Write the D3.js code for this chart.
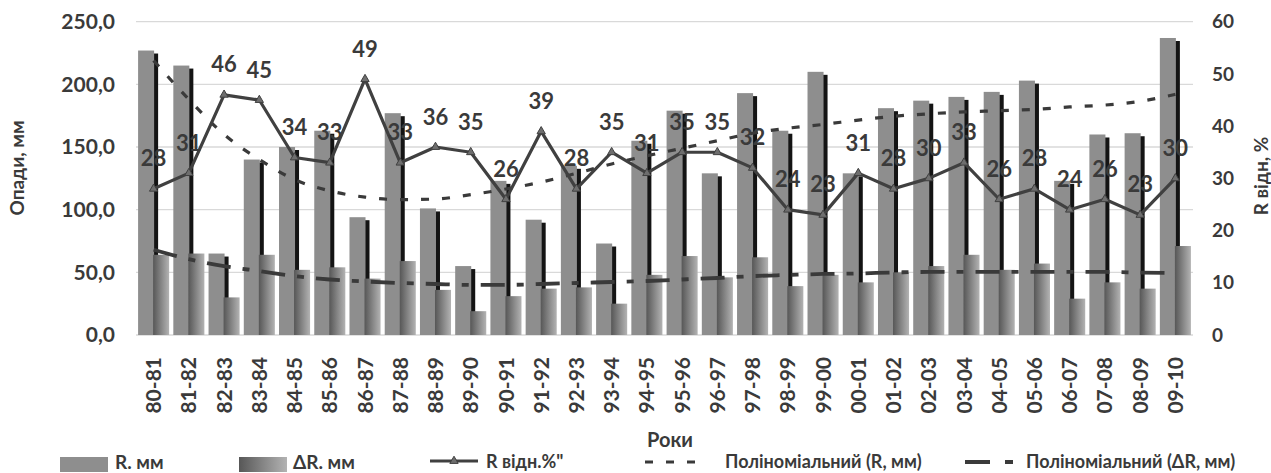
<!DOCTYPE html>
<html>
<head>
<meta charset="utf-8">
<script src="https://cdn.jsdelivr.net/npm/d3@7/dist/d3.min.js"></script>
<style>
  html, body { margin: 0; padding: 0; background: #fff; }
  svg { display: block; font-family: Lato, "Open Sans", sans-serif; font-weight: bold; }
</style>
</head>
<body>
<svg id="chart" width="1271" height="473"></svg>
<script>
// ---------- data ----------
const categories = ["80-81","81-82","82-83","83-84","84-85","85-86","86-87","87-88","88-89","89-90",
  "90-91","91-92","92-93","93-94","94-95","95-96","96-97","97-98","98-99","99-00",
  "00-01","01-02","02-03","03-04","04-05","05-06","06-07","07-08","08-09","09-10"];
const rValues = [227,215,65,140,150,163,94,177,101,55,123,92,135,73,155,179,129,193,163,210,
  129,181,187,190,194,203,123,160,161,237];
const dRValues = [64,65,30,64,52,54,45,59,36,19,31,37,38,25,48,63,46,62,39,48,
  42,50,55,64,52,57,29,42,37,71];
const rPctValues = [28,31,46,45,34,33,49,33,36,35,26,39,28,35,31,35,35,32,24,23,
  31,28,30,33,26,28,24,26,23,30];
// polynomial trend lines
const trendR = [219,188,160,140,124,115,110,108,108.5,112,116.5,122,129,136.5,143,149,155,161,165,168,
  171.5,174.5,176.5,178,179,180,182,183.5,186.5,192];
const trendDR = [68,60.5,55,51,47,44.3,42.7,41.5,40.7,40,40,40.7,41.5,42.3,43.1,44.3,45.5,47,47.9,48.7,
  49.1,49.9,50.3,50.3,50.3,50.3,50.3,50.3,49.8,49.5];
const leftTicks = [0,50,100,150,200,250];
const rightTicks = [0,10,20,30,40,50,60];

// ---------- layout ----------
const svg = d3.select("#chart");
const plot = {left: 136, right: 1193, top: 21.7, bottom: 335};
const textCol = "#3a3a3a";

const x = d3.scaleBand().domain(categories).range([plot.left, plot.right]).paddingInner(0).paddingOuter(0);
const yL = d3.scaleLinear().domain([0, 250]).range([plot.bottom, plot.top]);
const yR = d3.scaleLinear().domain([0, 60]).range([plot.bottom, plot.top]);
const bw = x.bandwidth();
const barW = bw * 0.455;
const cx = c => x(c) + bw / 2;

// gradient
const defs = svg.append("defs");
const grad = defs.append("linearGradient").attr("id", "gradDR").attr("x1", "0").attr("x2", "1").attr("y1", "0").attr("y2", "0");
grad.append("stop").attr("offset", "0%").attr("stop-color", "#575757");
grad.append("stop").attr("offset", "100%").attr("stop-color", "#b3b3b3");

// gridlines
svg.append("g").selectAll("line").data(leftTicks).join("line")
  .attr("x1", plot.left).attr("x2", plot.right)
  .attr("y1", d => yL(d)).attr("y2", d => yL(d))
  .attr("stroke", "#d9d9d9").attr("stroke-width", 1.3);

// axes
const fmt = d => d3.format(".1f")(d).replace(".", ",");
const gL = svg.append("g").attr("transform", `translate(${plot.left},0)`)
  .call(d3.axisLeft(yL).tickValues(leftTicks).tickFormat(fmt).tickSize(0).tickPadding(21));
gL.select(".domain").remove();
gL.selectAll("text").attr("fill", textCol).style("font-size", "21px").style("font-family", "Lato").style("font-weight", "bold");

const gR = svg.append("g").attr("transform", `translate(${plot.right},0)`)
  .call(d3.axisRight(yR).tickValues(rightTicks).tickFormat(d3.format("d")).tickSize(0).tickPadding(19));
gR.select(".domain").remove();
gR.selectAll("text").attr("fill", textCol).style("font-size", "19px").style("font-family", "Lato").style("font-weight", "bold");

const gX = svg.append("g").attr("transform", `translate(0,${plot.bottom})`)
  .call(d3.axisBottom(x).tickSize(0));
gX.select(".domain").remove();
gX.selectAll("text")
  .attr("x", -22).attr("y", 0).attr("dy", "0.36em")
  .attr("transform", "rotate(-90)")
  .style("text-anchor", "end")
  .attr("fill", textCol).style("font-size", "21px").style("font-family", "Lato").style("font-weight", "bold");

// R shadow
svg.append("g").selectAll("rect").data(categories).join("rect")
  .attr("x", (c) => cx(c) - barW + 0.5 + 4)
  .attr("y", (c, i) => yL(rValues[i]) + 3)
  .attr("width", barW)
  .attr("height", (c, i) => Math.max(0, plot.bottom - yL(rValues[i]) - 3))
  .attr("fill", "#141414");
// R bars
svg.append("g").selectAll("rect").data(categories).join("rect")
  .attr("x", (c) => cx(c) - barW + 0.5)
  .attr("y", (c, i) => yL(rValues[i]))
  .attr("width", barW)
  .attr("height", (c, i) => plot.bottom - yL(rValues[i]))
  .attr("fill", "#8e8e8e");
// dR bars
svg.append("g").selectAll("rect").data(categories).join("rect")
  .attr("x", (c) => cx(c) - 0.5)
  .attr("y", (c, i) => yL(dRValues[i]))
  .attr("width", barW)
  .attr("height", (c, i) => plot.bottom - yL(dRValues[i]))
  .attr("fill", "url(#gradDR)");

// trend lines
const lineR = d3.line().x((d, i) => cx(categories[i])).y(d => yL(d)).curve(d3.curveMonotoneX);
svg.append("path").datum(trendR).attr("d", lineR)
  .attr("fill", "none").attr("stroke", "#3a3a3a").attr("stroke-width", 3.2)
  .attr("stroke-dasharray", "8,13");
svg.append("path").datum(trendDR).attr("d", lineR)
  .attr("fill", "none").attr("stroke", "#3a3a3a").attr("stroke-width", 3.8)
  .attr("stroke-dasharray", "24,12,7,12");

// R pct line
const linePct = d3.line().x((d, i) => cx(categories[i])).y(d => yR(d));
svg.append("path").datum(rPctValues).attr("d", linePct)
  .attr("fill", "none").attr("stroke", "#404040").attr("stroke-width", 3.2).attr("stroke-linejoin", "round");
const tri = d3.symbol().type(d3.symbolTriangle).size(30);
svg.append("g").selectAll("path").data(rPctValues).join("path")
  .attr("d", tri)
  .attr("transform", (d, i) => `translate(${cx(categories[i])},${yR(d)})`)
  .attr("fill", "#6e6e6e").attr("stroke", "#404040").attr("stroke-width", 1);

// data labels
svg.append("g").selectAll("text").data(rPctValues).join("text")
  .attr("x", (d, i) => cx(categories[i]))
  .attr("y", d => yR(d) - 31)
  .attr("text-anchor", "middle").attr("dominant-baseline", "central")
  .attr("fill", textCol).style("font-size", "22px")
  .text(d => d);

// axis titles
svg.append("text").attr("transform", "translate(16,168) rotate(-90)")
  .attr("text-anchor", "middle").attr("dominant-baseline", "central")
  .attr("fill", textCol).style("font-size", "19px").text("Опади, мм");
svg.append("text").attr("transform", "translate(1260,176) rotate(-90)")
  .attr("text-anchor", "middle").attr("dominant-baseline", "central")
  .attr("fill", textCol).style("font-size", "19px").text("R відн, %");
svg.append("text").attr("x", 670).attr("y", 439)
  .attr("text-anchor", "middle").attr("dominant-baseline", "central")
  .attr("fill", textCol).style("font-size", "20px").text("Роки");

// legend
const lg = svg.append("g");
const ly = 461;
lg.append("rect").attr("x", 60).attr("y", 457).attr("width", 48).attr("height", 15).attr("fill", "#8e8e8e");
lg.append("text").attr("x", 115).attr("y", ly).attr("dominant-baseline", "central").attr("fill", textCol).style("font-size", "19px").text("R. мм");
lg.append("rect").attr("x", 239).attr("y", 457).attr("width", 48).attr("height", 15).attr("fill", "url(#gradDR)");
lg.append("text").attr("x", 293).attr("y", ly).attr("dominant-baseline", "central").attr("fill", textCol).style("font-size", "19px").text("ΔR. мм");
lg.append("line").attr("x1", 430).attr("x2", 478).attr("y1", 461).attr("y2", 461).attr("stroke", "#404040").attr("stroke-width", 3.2);
lg.append("path").attr("d", tri).attr("transform", "translate(454,461)").attr("fill", "#6e6e6e").attr("stroke", "#404040");
lg.append("text").attr("x", 486).attr("y", ly).attr("dominant-baseline", "central").attr("fill", textCol).style("font-size", "18px").text("R відн.%\"");
lg.append("line").attr("x1", 645).attr("x2", 699).attr("y1", 462).attr("y2", 462).attr("stroke", "#3a3a3a").attr("stroke-width", 3.2).attr("stroke-dasharray", "8,13");
lg.append("text").attr("x", 725).attr("y", ly).attr("dominant-baseline", "central").attr("fill", textCol).style("font-size", "18px").text("Поліноміальний (R, мм)");
lg.append("line").attr("x1", 965).attr("x2", 1013).attr("y1", 462).attr("y2", 462).attr("stroke", "#3a3a3a").attr("stroke-width", 3.8).attr("stroke-dasharray", "25,15,8,15");
lg.append("text").attr("x", 1026).attr("y", ly).attr("dominant-baseline", "central").attr("fill", textCol).style("font-size", "18px").text("Поліноміальний (ΔR, мм)");
</script>
</body>
</html>
